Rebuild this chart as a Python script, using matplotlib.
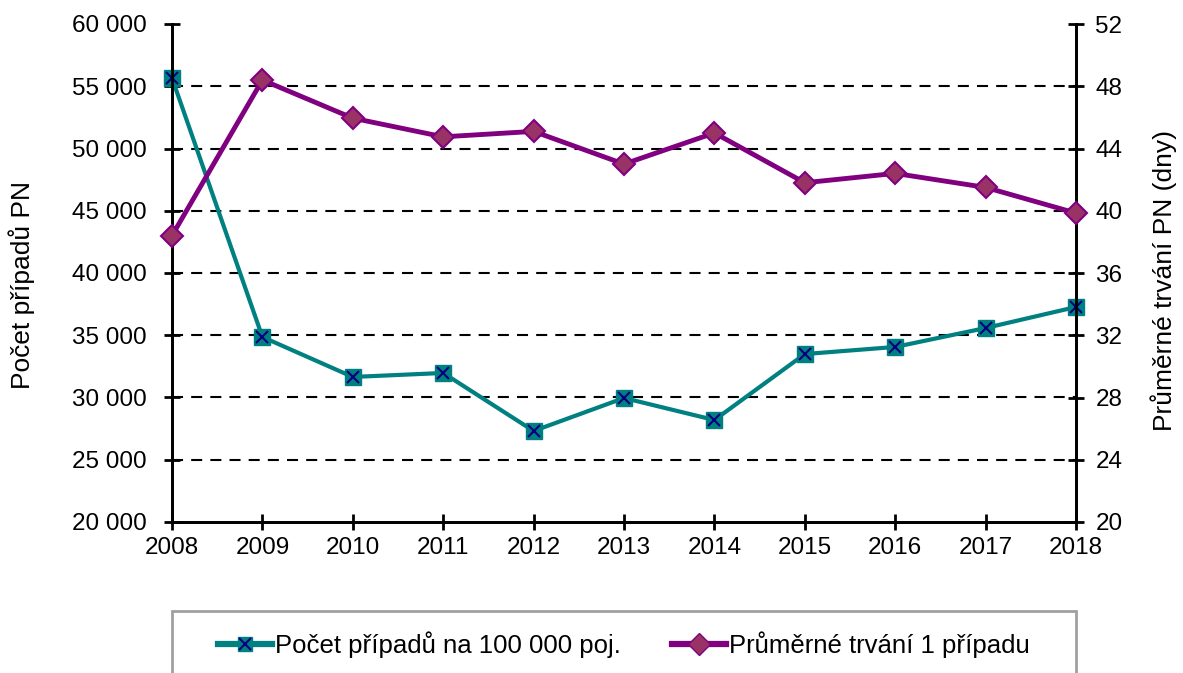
import matplotlib
matplotlib.use("Agg")
import matplotlib.pyplot as plt
from matplotlib.patches import Rectangle
from matplotlib.lines import Line2D

plt.rcParams['font.family'] = ['Liberation Sans', 'DejaVu Sans']

years = [2008, 2009, 2010, 2011, 2012, 2013, 2014, 2015, 2016, 2017, 2018]
cases = [55660, 34860, 31650, 31970, 27310, 29960, 28190, 33490, 34060, 35580, 37270]
duration = [38.4, 48.4, 45.95, 44.75, 45.1, 43.0, 45.0, 41.8, 42.4, 41.5, 39.85]
left_ticks = [20000, 25000, 30000, 35000, 40000, 45000, 50000, 55000, 60000]
right_ticks = [20, 24, 28, 32, 36, 40, 44, 48, 52]
label_cases = "Počet případů na 100 000 poj."
label_dur = "Průměrné trvání 1 případu"

W, H = 1183, 673
fig = plt.figure(figsize=(W/100, H/100), dpi=100)
ax = fig.add_axes([172/W, 1-522/H, (1076-172)/W, (522-24)/H])
ax2 = ax.twinx()

fs = 17.5
teal = '#008080'
purple = '#800080'

ax.set_ylim(20000, 60000)
ax.set_yticks(left_ticks)
ax.set_yticklabels([f"{v:,}".replace(",", " ") for v in left_ticks], fontsize=fs)
ax.set_xlim(2008, 2018)
ax.set_xticks(years)
ax.set_xticklabels([str(y) for y in years], fontsize=fs)
for v in left_ticks[1:-1]:
    ax.axhline(v, color='black', lw=1.5, ls=(0, (5.3, 3.9)), zorder=1)

ax2.set_ylim(20, 52)
ax2.set_yticks(right_ticks)
ax2.set_yticklabels([str(v) for v in right_ticks], fontsize=fs)

for a in (ax, ax2):
    a.spines['top'].set_visible(False)
    for s in ('left', 'right', 'bottom'):
        a.spines[s].set_linewidth(2)
    a.tick_params(direction='inout', length=12, width=2)
ax.tick_params(axis='y', pad=12)
ax2.tick_params(axis='y', pad=8)
ax.tick_params(axis='x', pad=5)

ax.plot(years, cases, color=teal, lw=3, marker='s', ms=11, mfc=teal, mec=teal, zorder=3, clip_on=False)
ax.plot(years, cases, ls='none', marker='x', ms=8, mew=1.5, color='#000080', zorder=4, clip_on=False)
ax2.plot(years, duration, color=purple, lw=3.5, marker='D', ms=11, mfc='#993366', mec=purple, mew=1.5, zorder=3, clip_on=False)

fig.text(22/W, 1-285/H, "Počet případů PN", rotation=90, fontsize=19, ha='center', va='center')
fig.text(1164/W, 1-280/H, "Průměrné trvání PN (dny)", rotation=90, fontsize=19, ha='center', va='center')

# legend box
fig.patches.append(Rectangle((172/W, -0.05), (1076-172)/W, (0.05 + 1 - 611/H),
                             transform=fig.transFigure, fill=False, ec='#a0a0a0', lw=2))
h1 = Line2D([], [], color=teal, lw=4.5, marker='s', ms=10, mfc=teal, mec=teal)
h1x = Line2D([], [], ls='none', marker='x', ms=8, mew=1.5, color='#000080')
h2 = Line2D([], [], color=purple, lw=4.5, marker='D', ms=11, mfc='#993366', mec=purple)
leg = fig.legend([(h1, h1x), h2], [label_cases, label_dur], loc='center',
                 bbox_to_anchor=((172 + 1076) / 2 / W, 1 - 645/H), ncol=2, frameon=False,
                 fontsize=18.5, handlelength=2.1, handletextpad=0.1, columnspacing=2.0)

fig.savefig("out.png", dpi=100)
